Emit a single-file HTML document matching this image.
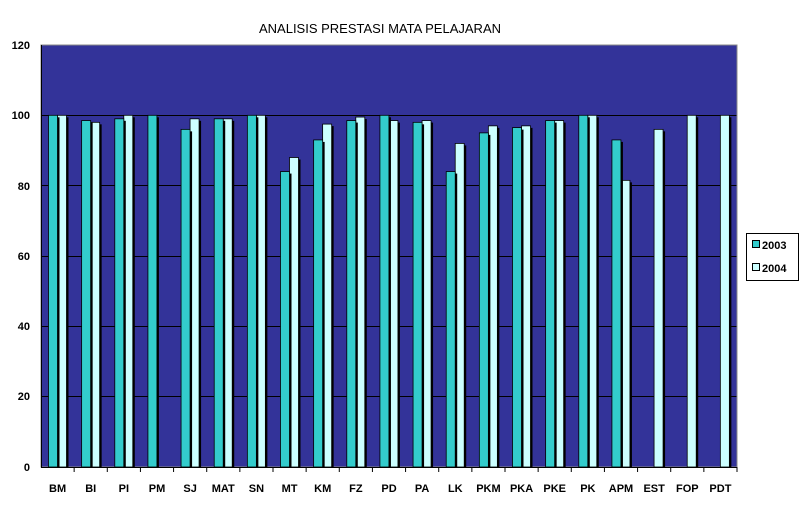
<!DOCTYPE html>
<html><head><meta charset="utf-8"><style>body{margin:0;background:#fff}</style></head><body>
<svg width="800" height="502" xmlns="http://www.w3.org/2000/svg" font-family="Liberation Sans, sans-serif">
<rect width="800" height="502" fill="#fff"/>
<text x="380" y="33" text-anchor="middle" font-size="13">ANALISIS PRESTASI MATA PELAJARAN</text>
<rect x="41" y="45" width="696" height="422" fill="#333399"/>
<g stroke="#000" stroke-width="1">
<line x1="41" y1="115.5" x2="737" y2="115.5"/>
<line x1="41" y1="185.5" x2="737" y2="185.5"/>
<line x1="41" y1="256.5" x2="737" y2="256.5"/>
<line x1="41" y1="326.5" x2="737" y2="326.5"/>
<line x1="41" y1="396.5" x2="737" y2="396.5"/>
</g>
<rect x="41" y="45" width="696" height="422" fill="none" stroke="#888" stroke-width="1"/>
<g id="bars"></g>
<line x1="41" y1="467.5" x2="737" y2="467.5" stroke="#000"/>
<line x1="41.5" y1="45" x2="41.5" y2="467" stroke="#000"/>
<g font-size="11" font-weight="bold" text-anchor="end">
<text x="30" y="49">120</text><text x="30" y="119">100</text><text x="30" y="190">80</text>
<text x="30" y="260">60</text><text x="30" y="330">40</text><text x="30" y="400">20</text><text x="30" y="471">0</text>
</g>
<g id="ticks" stroke="#000"></g>
<g id="labels" font-size="11" font-weight="bold" text-anchor="middle"></g>
<rect x="746.5" y="233.5" width="52" height="47" fill="#fff" stroke="#000"/>
<rect x="752.5" y="240.5" width="7" height="7" fill="#33CCCC" stroke="#000"/>
<rect x="752.5" y="263.5" width="7" height="7" fill="#CCFFFF" stroke="#000"/>
<g font-size="11" font-weight="bold"><text x="762" y="249">2003</text><text x="762" y="272">2004</text></g>
</svg>
<script>
var cats=["BM","BI","PI","PM","SJ","MAT","SN","MT","KM","FZ","PD","PA","LK","PKM","PKA","PKE","PK","APM","EST","FOP","PDT"];
var a=[100,98.5,99,100,96,99,100,84,93,98.5,100,98,84,95,96.5,98.5,100,93,null,null,null];
var b=[100,98,100,null,99,99,100,88,97.5,99.5,98.5,98.5,92,97,97,98.5,100,81.5,96,100,100];
var ns="http://www.w3.org/2000/svg",g=document.getElementById("bars"),t=document.getElementById("ticks"),l=document.getElementById("labels");
function r(x,y,w,h,f,s){var e=document.createElementNS(ns,"rect");e.setAttribute("x",x);e.setAttribute("y",y);e.setAttribute("width",w);e.setAttribute("height",h);e.setAttribute("fill",f);if(s){e.setAttribute("stroke",s);e.setAttribute("stroke-width","0.8");}g.appendChild(e);}
var cw=696/21;
for(var i=0;i<21;i++){var x0=41+i*cw;
function bar(x,v,c){if(v==null)return;var y=467-v*3.517;r(x+2,y+2,9,467-y-2,"#000");r(x,y,9,467-y,c,"#000");}
bar(x0+7.5,b[i]==null?null:null,"");
if(b[i]!=null)bar(x0+16.5,b[i],"#CCFFFF");
if(a[i]!=null)bar(x0+7.5,a[i],"#33CCCC");
var ln=document.createElementNS(ns,"line");ln.setAttribute("x1",x0+cw);ln.setAttribute("x2",x0+cw);ln.setAttribute("y1",467);ln.setAttribute("y2",472);t.appendChild(ln);
var tx=document.createElementNS(ns,"text");tx.setAttribute("x",x0+cw/2);tx.setAttribute("y",492);tx.textContent=cats[i];l.appendChild(tx);}
</script>
</body></html>
